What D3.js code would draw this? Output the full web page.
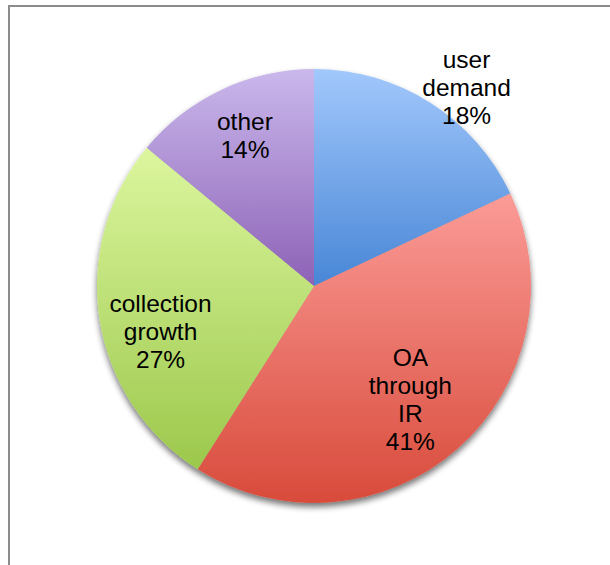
<!DOCTYPE html>
<html>
<head>
<meta charset="utf-8">
<script src="https://cdn.jsdelivr.net/npm/d3@7"></script>
<style>
  html, body { margin: 0; padding: 0; background: #fff; }
  svg { display: block; }
</style>
</head>
<body>
<svg id="chart" width="610" height="565"></svg>
<script>
// Reasons for growth, share of the total
const categories = ["user demand", "OA through IR", "collection growth", "other"];
const labelLines = [["user", "demand"], ["OA", "through", "IR"], ["collection", "growth"], ["other"]];
const values = [18, 41, 27, 14];
const colorsTop = ["#a2c8fc", "#fb9b97", "#dcf69e", "#cab8ec"];
const colorsBottom = ["#4886d6", "#d84b3b", "#9cc84c", "#8d62b6"];

const svg = d3.select("#chart");
const W = 610, H = 565;
const cx = 314, cy = 286, R = 217;

// frame around the chart area
svg.append("rect")
  .attr("x", 9).attr("y", 6)
  .attr("width", W + 20).attr("height", H + 20)
  .attr("fill", "#fff")
  .attr("stroke", "#8c8c8c").attr("stroke-width", 2);

const defs = svg.append("defs");
const shadow = defs.append("filter").attr("id", "shadow")
  .attr("x", "-10%").attr("y", "-10%").attr("width", "120%").attr("height", "125%");
shadow.append("feGaussianBlur").attr("in", "SourceAlpha").attr("stdDeviation", 3).attr("result", "b");
shadow.append("feOffset").attr("in", "b").attr("dx", 0).attr("dy", 4).attr("result", "o");
shadow.append("feComponentTransfer").attr("in", "o").attr("result", "s")
  .append("feFuncA").attr("type", "linear").attr("slope", 0.55);
const merge = shadow.append("feMerge");
merge.append("feMergeNode").attr("in", "s");
merge.append("feMergeNode").attr("in", "SourceGraphic");

const pie = d3.pie().sort(null).value(d => d)(values);
const arc = d3.arc().innerRadius(0).outerRadius(R);

// vertical gradient spanning each slice's own vertical extent
pie.forEach((d, i) => {
  const ys = [0];
  const steps = 60;
  for (let k = 0; k <= steps; k++) {
    const a = d.startAngle + (d.endAngle - d.startAngle) * k / steps;
    ys.push(-R * Math.cos(a));
  }
  const y0 = d3.min(ys), y1 = d3.max(ys);
  const g = defs.append("linearGradient").attr("id", "grad" + i)
    .attr("gradientUnits", "userSpaceOnUse")
    .attr("x1", 0).attr("x2", 0).attr("y1", y0).attr("y2", y1);
  g.append("stop").attr("offset", "0%").attr("stop-color", colorsTop[i]);
  g.append("stop").attr("offset", "100%").attr("stop-color", colorsBottom[i]);
});

const g = svg.append("g").attr("transform", `translate(${cx},${cy})`);
const slices = g.append("g").attr("filter", "url(#shadow)");
slices.selectAll("path").data(pie).join("path")
  .attr("d", arc)
  .attr("fill", (d, i) => `url(#grad${i})`);

// label anchors: angle (degrees clockwise from top) and distance from centre
const labelPlace = [
  { angle: 37.6, dist: 250 },
  { angle: 139.7, dist: 149 },
  { angle: 253.6, dist: 160 },
  { angle: 335.4, dist: 166 }
];
const lineH = 28;
pie.forEach((d, i) => {
  const lines = labelLines[i].concat([values[i] + "%"]);
  const a = labelPlace[i].angle * Math.PI / 180;
  const lx = labelPlace[i].dist * Math.sin(a);
  const ly = -labelPlace[i].dist * Math.cos(a);
  const t = g.append("text")
    .attr("text-anchor", "middle")
    .attr("font-family", "'Liberation Sans', Arial, Helvetica, sans-serif")
    .attr("font-size", 24.5)
    .attr("fill", "#000");
  lines.forEach((s, k) => {
    t.append("tspan")
      .attr("x", lx)
      .attr("y", ly + (k - (lines.length - 1) / 2) * lineH + 8.5)
      .text(s);
  });
});
</script>
</body>
</html>
